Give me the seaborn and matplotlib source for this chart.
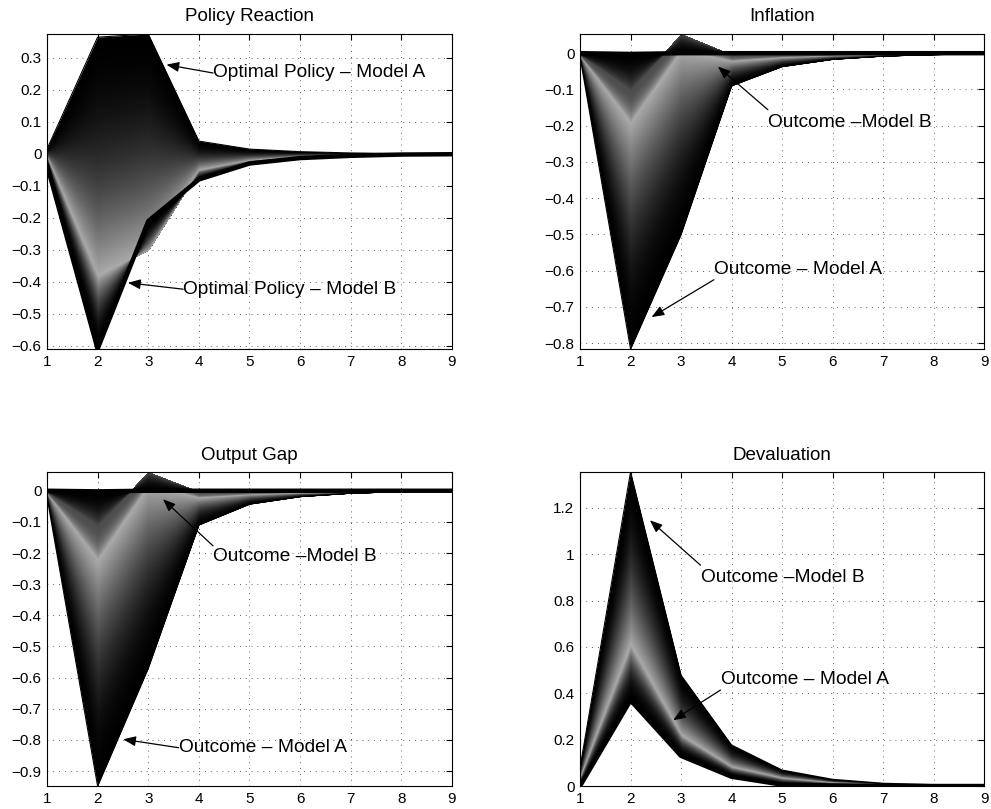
import numpy as np
import seaborn as sns
import matplotlib.pyplot as plt

periods = [1, 2, 3, 4, 5, 6, 7, 8, 9]

# Policy Reaction: model A edge, lightest line, model B edge
policy_a = [0.015, 0.365, 0.375, 0.04, 0.015, 0.007, 0.003, 0.001, 0.0]
policy_mid = [-0.01, -0.38, -0.30, -0.05, -0.02, -0.008, -0.003, -0.001, 0.0]
policy_b = [-0.035, -0.61, -0.21, -0.08, -0.03, -0.013, -0.006, -0.002, -0.001]

# Inflation
infl_a = [-0.01, -0.816, -0.50, -0.09, -0.037, -0.017, -0.008, -0.004, -0.002]
infl_mid = [-0.005, -0.19, 0.01, -0.02, -0.01, -0.005, -0.002, -0.001, 0.0]
infl_peak = [-0.003, -0.10, 0.053, -0.004, -0.002, -0.001, 0.0, 0.0, 0.0]
infl_b = [0.0, -0.002, 0.0, 0.0, 0.0, 0.0, 0.0, 0.0, 0.0]

# Output Gap
gap_a = [-0.02, -0.948, -0.57, -0.11, -0.043, -0.019, -0.008, -0.003, -0.001]
gap_mid = [-0.005, -0.22, 0.02, -0.02, -0.01, -0.005, -0.002, -0.001, 0.0]
gap_peak = [-0.003, -0.11, 0.06, -0.003, -0.002, -0.001, 0.0, 0.0, 0.0]
gap_b = [0.0, -0.002, 0.0, 0.0, 0.0, 0.0, 0.0, 0.0, 0.0]

# Devaluation
deval_b = [0.08, 1.355, 0.478, 0.177, 0.069, 0.029, 0.012, 0.006, 0.003]
deval_mid = [0.035, 0.61, 0.22, 0.083, 0.035, 0.015, 0.007, 0.003, 0.001]
deval_a = [0.0, 0.37, 0.13, 0.04, 0.006, 0.002, 0.001, 0.0, 0.0]

policy_yticks = [-0.6, -0.5, -0.4, -0.3, -0.2, -0.1, 0, 0.1, 0.2, 0.3]
infl_yticks = [-0.8, -0.7, -0.6, -0.5, -0.4, -0.3, -0.2, -0.1, 0]
gap_yticks = [-0.9, -0.8, -0.7, -0.6, -0.5, -0.4, -0.3, -0.2, -0.1, 0]
deval_yticks = [0, 0.2, 0.4, 0.6, 0.8, 1, 1.2]

LIGHT = 0.67

panels = [
    dict(title="Policy Reaction", pos=[0.0474, 0.5686, 0.4087, 0.3894],
         keys=[policy_a, policy_mid, policy_b], grays=[0.0, LIGHT, 0.0],
         thick=2, thin=[0], ylim=(-0.61, 0.375), yticks=policy_yticks,
         notes=[("Optimal Policy \u2013 Model A", (4.28, 0.253), (3.36, 0.279)),
                ("Optimal Policy \u2013 Model B", (3.69, -0.423), (2.60, -0.403))]),
    dict(title="Inflation", pos=[0.5853, 0.5686, 0.4077, 0.3894],
         keys=[infl_a, infl_mid, infl_peak, infl_b], grays=[0.0, LIGHT, 0.3, 0.0],
         thick=3, thin=[0], ylim=(-0.816, 0.053), yticks=infl_yticks,
         notes=[("Outcome \u2013Model B", (4.72, -0.19), (3.73, -0.037), (4.72, -0.156)),
                ("Outcome \u2013 Model A", (3.65, -0.596), (2.417, -0.728), (3.65, -0.625))]),
    dict(title="Output Gap", pos=[0.0474, 0.0284, 0.4087, 0.3881],
         keys=[gap_a, gap_mid, gap_peak, gap_b], grays=[0.0, LIGHT, 0.3, 0.0],
         thick=3, thin=[0], ylim=(-0.948, 0.06), yticks=gap_yticks,
         notes=[("Outcome \u2013Model B", (4.27, -0.212), (3.29, -0.027), (4.28, -0.177)),
                ("Outcome \u2013 Model A", (3.60, -0.825), (2.505, -0.798))]),
    dict(title="Devaluation", pos=[0.5853, 0.0284, 0.4077, 0.3881],
         keys=[deval_b, deval_mid, deval_a], grays=[0.0, LIGHT, 0.0],
         thick=2, thin=[0], ylim=(0, 1.355), yticks=deval_yticks,
         notes=[("Outcome \u2013Model B", (3.39, 0.902), (2.383, 1.147), (3.385, 0.953)),
                ("Outcome \u2013 Model A", (3.80, 0.46), (2.845, 0.284), (3.78, 0.414))]),
]

sns.set_style("white")
plt.rcParams['font.family'] = ['Liberation Sans', 'DejaVu Sans']
plt.rcParams['text.color'] = 'black'


def shade(ax, start, end, g0, g1, n=130, p=2.0):
    # grey ramp between two read curves; each band runs to the far curve
    # and the next one is laid over it, so no seams show
    lo = np.asarray(start, dtype=float)
    hi = np.asarray(end, dtype=float)
    for i in range(n):
        t0 = i / n
        tm = (i + 0.5) / n
        f = tm ** p if g1 >= g0 else 1 - (1 - tm) ** p
        g = g0 + (g1 - g0) * f
        ax.fill_between(periods, lo + (hi - lo) * t0, hi,
                        facecolor=(g, g, g), lw=0, zorder=2)


def tick_label(v):
    return f"{v:g}".replace("-", "\u2212")


fig = plt.figure(figsize=(9.91, 8.09), dpi=100)

for cfg in panels:
    ax = fig.add_axes(cfg["pos"])
    keys = cfg["keys"]
    grays = cfg["grays"]
    for k in range(len(keys) - 1):
        shade(ax, keys[k], keys[k + 1], grays[k], grays[k + 1])
    for k in cfg["thin"]:
        sns.lineplot(x=periods, y=keys[k], color="black", lw=0.8, ax=ax, zorder=3)
    sns.lineplot(x=periods, y=keys[cfg["thick"]], color="black", lw=3.2, ax=ax, zorder=4)

    ax.set_xlim(1, 9)
    ax.set_ylim(*cfg["ylim"])
    ax.set_xticks(periods)
    ax.set_xticklabels([str(p) for p in periods])
    ax.set_yticks(cfg["yticks"])
    ax.set_yticklabels([tick_label(v) for v in cfg["yticks"]])
    ax.set_xlabel("")
    ax.set_ylabel("")
    ax.set_axisbelow(True)
    ax.grid(True, color="0.2", ls=(0, (1, 6)), lw=0.6)
    ax.tick_params(direction="in", length=4, width=0.8, top=True, right=True,
                   labelsize=11, pad=4, colors="black")
    for s in ax.spines.values():
        s.set_visible(True)
        s.set_color("black")
        s.set_linewidth(0.8)
    ax.set_title(cfg["title"], fontsize=13.5, pad=9, color="black")

    for note in cfg["notes"]:
        label, txy, tip = note[0], note[1], note[2]
        tail = note[3] if len(note) > 3 else txy
        ax.annotate("", xy=tip, xytext=tail,
                    arrowprops=dict(arrowstyle="-|>,head_length=0.75,head_width=0.3",
                                    lw=0.9, color="black", mutation_scale=10,
                                    shrinkA=0, shrinkB=0),
                    zorder=6)
        ax.text(txy[0], txy[1], label, ha="left", va="center", fontsize=13.8,
                color="black", zorder=7)

fig.savefig("out.png", dpi=100)
